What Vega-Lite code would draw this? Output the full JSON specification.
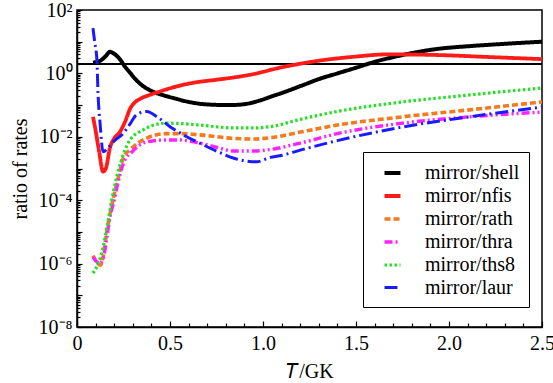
{
  "$schema": "https://vega.github.io/schema/vega-lite/v6.json",
  "width": 465,
  "height": 317,
  "autosize": {"type": "none"},
  "padding": {"left": 77, "top": 10, "right": 11, "bottom": 56},
  "background": "white",
  "config": {
    "view": {"stroke": "black", "strokeWidth": 1.5},
    "font": "Liberation Serif",
    "axis": {"grid": false, "domainColor": "black", "domainWidth": 1.5, "tickColor": "black", "tickWidth": 1.2, "labelFont": "Liberation Serif", "labelFontSize": 20, "labelColor": "black", "titleFont": "Liberation Serif", "titleFontSize": 20, "titleFontWeight": "normal", "titleColor": "black"}
  },
  "data": {"values": [
    {"s": "mirror/shell", "T": 0.086, "r": 2.19},
    {"s": "mirror/shell", "T": 0.13, "r": 2.63},
    {"s": "mirror/shell", "T": 0.155, "r": 3.55},
    {"s": "mirror/shell", "T": 0.177, "r": 4.79},
    {"s": "mirror/shell", "T": 0.2, "r": 4.17},
    {"s": "mirror/shell", "T": 0.23, "r": 2.82},
    {"s": "mirror/shell", "T": 0.26, "r": 1.58},
    {"s": "mirror/shell", "T": 0.285, "r": 1.05},
    {"s": "mirror/shell", "T": 0.32, "r": 0.603},
    {"s": "mirror/shell", "T": 0.36, "r": 0.38},
    {"s": "mirror/shell", "T": 0.41, "r": 0.263},
    {"s": "mirror/shell", "T": 0.47, "r": 0.2},
    {"s": "mirror/shell", "T": 0.52, "r": 0.166},
    {"s": "mirror/shell", "T": 0.6, "r": 0.126},
    {"s": "mirror/shell", "T": 0.7, "r": 0.105},
    {"s": "mirror/shell", "T": 0.82, "r": 0.1},
    {"s": "mirror/shell", "T": 0.9, "r": 0.107},
    {"s": "mirror/shell", "T": 0.98, "r": 0.138},
    {"s": "mirror/shell", "T": 1.05, "r": 0.191},
    {"s": "mirror/shell", "T": 1.1, "r": 0.24},
    {"s": "mirror/shell", "T": 1.215, "r": 0.427},
    {"s": "mirror/shell", "T": 1.3, "r": 0.661},
    {"s": "mirror/shell", "T": 1.4, "r": 1.0},
    {"s": "mirror/shell", "T": 1.5, "r": 1.51},
    {"s": "mirror/shell", "T": 1.575, "r": 2.09},
    {"s": "mirror/shell", "T": 1.75, "r": 3.8},
    {"s": "mirror/shell", "T": 1.935, "r": 5.89},
    {"s": "mirror/shell", "T": 2.11, "r": 7.24},
    {"s": "mirror/shell", "T": 2.29, "r": 8.51},
    {"s": "mirror/shell", "T": 2.5, "r": 10.0},

    {"s": "mirror/nfis", "T": 0.086, "r": 0.0427},
    {"s": "mirror/nfis", "T": 0.1, "r": 0.0158},
    {"s": "mirror/nfis", "T": 0.12, "r": 0.00316},
    {"s": "mirror/nfis", "T": 0.14, "r": 0.000794},
    {"s": "mirror/nfis", "T": 0.155, "r": 0.001},
    {"s": "mirror/nfis", "T": 0.177, "r": 0.00447},
    {"s": "mirror/nfis", "T": 0.2, "r": 0.00891},
    {"s": "mirror/nfis", "T": 0.23, "r": 0.0141},
    {"s": "mirror/nfis", "T": 0.26, "r": 0.0316},
    {"s": "mirror/nfis", "T": 0.285, "r": 0.0759},
    {"s": "mirror/nfis", "T": 0.31, "r": 0.12},
    {"s": "mirror/nfis", "T": 0.34, "r": 0.158},
    {"s": "mirror/nfis", "T": 0.39, "r": 0.209},
    {"s": "mirror/nfis", "T": 0.446, "r": 0.269},
    {"s": "mirror/nfis", "T": 0.5, "r": 0.339},
    {"s": "mirror/nfis", "T": 0.62, "r": 0.501},
    {"s": "mirror/nfis", "T": 0.75, "r": 0.631},
    {"s": "mirror/nfis", "T": 0.84, "r": 0.741},
    {"s": "mirror/nfis", "T": 0.95, "r": 0.955},
    {"s": "mirror/nfis", "T": 1.09, "r": 1.51},
    {"s": "mirror/nfis", "T": 1.215, "r": 2.09},
    {"s": "mirror/nfis", "T": 1.35, "r": 2.75},
    {"s": "mirror/nfis", "T": 1.48, "r": 3.31},
    {"s": "mirror/nfis", "T": 1.67, "r": 3.98},
    {"s": "mirror/nfis", "T": 1.94, "r": 3.8},
    {"s": "mirror/nfis", "T": 2.2, "r": 3.31},
    {"s": "mirror/nfis", "T": 2.5, "r": 2.82},

    {"s": "mirror/rath", "T": 0.086, "r": 1.78e-6},
    {"s": "mirror/rath", "T": 0.1, "r": 1.26e-6},
    {"s": "mirror/rath", "T": 0.125, "r": 8.9e-7},
    {"s": "mirror/rath", "T": 0.14, "r": 1.58e-6},
    {"s": "mirror/rath", "T": 0.16, "r": 1.0e-5},
    {"s": "mirror/rath", "T": 0.195, "r": 1.12e-4},
    {"s": "mirror/rath", "T": 0.23, "r": 7.94e-4},
    {"s": "mirror/rath", "T": 0.25, "r": 2.29e-3},
    {"s": "mirror/rath", "T": 0.285, "r": 3.89e-3},
    {"s": "mirror/rath", "T": 0.375, "r": 9.12e-3},
    {"s": "mirror/rath", "T": 0.48, "r": 0.0126},
    {"s": "mirror/rath", "T": 0.55, "r": 0.0126},
    {"s": "mirror/rath", "T": 0.66, "r": 0.0115},
    {"s": "mirror/rath", "T": 0.84, "r": 0.00891},
    {"s": "mirror/rath", "T": 0.95, "r": 0.00851},
    {"s": "mirror/rath", "T": 1.04, "r": 0.00933},
    {"s": "mirror/rath", "T": 1.2, "r": 0.0141},
    {"s": "mirror/rath", "T": 1.4, "r": 0.0234},
    {"s": "mirror/rath", "T": 1.75, "r": 0.0427},
    {"s": "mirror/rath", "T": 2.11, "r": 0.0708},
    {"s": "mirror/rath", "T": 2.5, "r": 0.126},

    {"s": "mirror/thra", "T": 0.086, "r": 1.58e-6},
    {"s": "mirror/thra", "T": 0.1, "r": 1.26e-6},
    {"s": "mirror/thra", "T": 0.12, "r": 1.0e-6},
    {"s": "mirror/thra", "T": 0.14, "r": 1.41e-6},
    {"s": "mirror/thra", "T": 0.16, "r": 6.31e-6},
    {"s": "mirror/thra", "T": 0.177, "r": 2.95e-5},
    {"s": "mirror/thra", "T": 0.2, "r": 1.0e-4},
    {"s": "mirror/thra", "T": 0.215, "r": 2.63e-4},
    {"s": "mirror/thra", "T": 0.25, "r": 1.48e-3},
    {"s": "mirror/thra", "T": 0.3, "r": 3.55e-3},
    {"s": "mirror/thra", "T": 0.375, "r": 6.92e-3},
    {"s": "mirror/thra", "T": 0.48, "r": 7.94e-3},
    {"s": "mirror/thra", "T": 0.55, "r": 7.94e-3},
    {"s": "mirror/thra", "T": 0.66, "r": 6.31e-3},
    {"s": "mirror/thra", "T": 0.75, "r": 4.68e-3},
    {"s": "mirror/thra", "T": 0.84, "r": 3.55e-3},
    {"s": "mirror/thra", "T": 0.95, "r": 3.55e-3},
    {"s": "mirror/thra", "T": 1.04, "r": 3.98e-3},
    {"s": "mirror/thra", "T": 1.2, "r": 6.31e-3},
    {"s": "mirror/thra", "T": 1.4, "r": 0.0126},
    {"s": "mirror/thra", "T": 1.75, "r": 0.0269},
    {"s": "mirror/thra", "T": 2.11, "r": 0.0427},
    {"s": "mirror/thra", "T": 2.5, "r": 0.0603},

    {"s": "mirror/ths8", "T": 0.086, "r": 5.01e-7},
    {"s": "mirror/ths8", "T": 0.11, "r": 8.9e-7},
    {"s": "mirror/ths8", "T": 0.14, "r": 3.16e-6},
    {"s": "mirror/ths8", "T": 0.16, "r": 1.26e-5},
    {"s": "mirror/ths8", "T": 0.195, "r": 1.78e-4},
    {"s": "mirror/ths8", "T": 0.23, "r": 1.26e-3},
    {"s": "mirror/ths8", "T": 0.285, "r": 7.94e-3},
    {"s": "mirror/ths8", "T": 0.35, "r": 0.0158},
    {"s": "mirror/ths8", "T": 0.39, "r": 0.0209},
    {"s": "mirror/ths8", "T": 0.48, "r": 0.0269},
    {"s": "mirror/ths8", "T": 0.55, "r": 0.0263},
    {"s": "mirror/ths8", "T": 0.66, "r": 0.0234},
    {"s": "mirror/ths8", "T": 0.84, "r": 0.0191},
    {"s": "mirror/ths8", "T": 0.95, "r": 0.0191},
    {"s": "mirror/ths8", "T": 1.04, "r": 0.0209},
    {"s": "mirror/ths8", "T": 1.2, "r": 0.0355},
    {"s": "mirror/ths8", "T": 1.4, "r": 0.0631},
    {"s": "mirror/ths8", "T": 1.75, "r": 0.126},
    {"s": "mirror/ths8", "T": 2.11, "r": 0.209},
    {"s": "mirror/ths8", "T": 2.5, "r": 0.347},

    {"s": "mirror/laur", "T": 0.086, "r": 26.9},
    {"s": "mirror/laur", "T": 0.095, "r": 10.0},
    {"s": "mirror/laur", "T": 0.107, "r": 2.63},
    {"s": "mirror/laur", "T": 0.113, "r": 0.24},
    {"s": "mirror/laur", "T": 0.124, "r": 0.0269},
    {"s": "mirror/laur", "T": 0.14, "r": 0.00339},
    {"s": "mirror/laur", "T": 0.16, "r": 0.00398},
    {"s": "mirror/laur", "T": 0.188, "r": 0.00631},
    {"s": "mirror/laur", "T": 0.25, "r": 0.0132},
    {"s": "mirror/laur", "T": 0.29, "r": 0.0282},
    {"s": "mirror/laur", "T": 0.32, "r": 0.0501},
    {"s": "mirror/laur", "T": 0.375, "r": 0.0631},
    {"s": "mirror/laur", "T": 0.43, "r": 0.0427},
    {"s": "mirror/laur", "T": 0.5, "r": 0.0209},
    {"s": "mirror/laur", "T": 0.59, "r": 0.01},
    {"s": "mirror/laur", "T": 0.66, "r": 0.00631},
    {"s": "mirror/laur", "T": 0.75, "r": 0.00355},
    {"s": "mirror/laur", "T": 0.84, "r": 0.00214},
    {"s": "mirror/laur", "T": 0.965, "r": 0.00162},
    {"s": "mirror/laur", "T": 1.04, "r": 0.00224},
    {"s": "mirror/laur", "T": 1.09, "r": 0.00251},
    {"s": "mirror/laur", "T": 1.2, "r": 0.0038},
    {"s": "mirror/laur", "T": 1.4, "r": 0.00759},
    {"s": "mirror/laur", "T": 1.75, "r": 0.0204},
    {"s": "mirror/laur", "T": 2.11, "r": 0.0427},
    {"s": "mirror/laur", "T": 2.5, "r": 0.0871}
  ]},
  "layer": [
    {
      "mark": {"type": "rule", "color": "black", "strokeWidth": 1.2},
      "encoding": {"y": {"datum": 2, "type": "quantitative"}}
    },
    {
      "mark": {"type": "line", "interpolate": "monotone", "strokeCap": "butt", "clip": true},
      "encoding": {
        "x": {
          "field": "T", "type": "quantitative",
          "scale": {"domain": [0, 2.5], "nice": false, "zero": false},
          "axis": {
            "title": "𝑇/GK",
            "titlePadding": 6,
            "values": [0,0.1,0.2,0.3,0.4,0.5,0.6,0.7,0.8,0.9,1.0,1.1,1.2,1.3,1.4,1.5,1.6,1.7,1.8,1.9,2.0,2.1,2.2,2.3,2.4,2.5],
            "labelExpr": "datum.value == 0 ? '0' : (abs(datum.value*2 - round(datum.value*2)) < 0.001 ? format(datum.value, '.1f') : '')",
            "tickSize": {"condition": {"test": "abs(datum.value*2 - round(datum.value*2)) < 0.001", "value": -6}, "value": -4},
            "labelPadding": 12,
            "labelFlush": false,
            "labelOverlap": false
          }
        },
        "y": {
          "field": "r", "type": "quantitative",
          "scale": {"type": "log", "domain": [1e-8, 100], "nice": false},
          "axis": {
            "title": "ratio of rates",
            "titlePadding": 8,
            "values": [1e-8,2e-8,3e-8,4e-8,5e-8,6e-8,7e-8,8e-8,9e-8,1e-7,2e-7,3e-7,4e-7,5e-7,6e-7,7e-7,8e-7,9e-7,1e-6,2e-6,3e-6,4e-6,5e-6,6e-6,7e-6,8e-6,9e-6,1e-5,2e-5,3e-5,4e-5,5e-5,6e-5,7e-5,8e-5,9e-5,1e-4,2e-4,3e-4,4e-4,5e-4,6e-4,7e-4,8e-4,9e-4,1e-3,2e-3,3e-3,4e-3,5e-3,6e-3,7e-3,8e-3,9e-3,1e-2,2e-2,3e-2,4e-2,5e-2,6e-2,7e-2,8e-2,9e-2,0.1,0.2,0.3,0.4,0.5,0.6,0.7,0.8,0.9,1,2,3,4,5,6,7,8,9,10,20,30,40,50,60,70,80,90,100],
            "labelExpr": "abs(datum.value/pow(10,round(log(datum.value)/LN10)) - 1) > 0.01 ? '' : round(log(datum.value)/LN10) == 2 ? '10²' : round(log(datum.value)/LN10) == 0 ? '10⁰' : round(log(datum.value)/LN10) == -2 ? '10⁻²' : round(log(datum.value)/LN10) == -4 ? '10⁻⁴' : round(log(datum.value)/LN10) == -6 ? '10⁻⁶' : round(log(datum.value)/LN10) == -8 ? '10⁻⁸' : ''",
            "tickSize": {"condition": {"test": "abs(datum.value/pow(10,round(log(datum.value)/LN10)) - 1) < 0.01", "value": -5}, "value": -3},
            "labelPadding": 10,
            "labelFlush": false,
            "labelOverlap": false
          }
        },
        "color": {
          "field": "s", "type": "nominal",
          "scale": {
            "domain": ["mirror/shell", "mirror/nfis", "mirror/rath", "mirror/thra", "mirror/ths8", "mirror/laur"],
            "range": ["#000000", "#ff1a1a", "#f47a20", "#ff22ff", "#22e022", "#1a1aff"]
          },
          "legend": {
            "title": null,
            "orient": "none",
            "legendX": 286,
            "legendY": 142,
            "padding": 9,
            "strokeColor": "black",
            "fillColor": "white",
            "symbolType": "M0.05,0H1.65",
            "symbolSize": 400,
            "labelFont": "Liberation Serif",
            "labelFontSize": 20,
            "labelColor": "black",
            "rowPadding": 1,
            "labelOffset": 29
          }
        },
        "strokeDash": {
          "field": "s", "type": "nominal",
          "scale": {
            "domain": ["mirror/shell", "mirror/nfis", "mirror/rath", "mirror/thra", "mirror/ths8", "mirror/laur"],
            "range": [[1, 0], [1, 0], [6, 3], [8, 3, 2, 3, 2, 3], [2.5, 2.5], [13, 4, 2, 4]]
          }
        },
        "strokeWidth": {
          "field": "s", "type": "nominal",
          "scale": {
            "domain": ["mirror/shell", "mirror/nfis", "mirror/rath", "mirror/thra", "mirror/ths8", "mirror/laur"],
            "range": [4, 3, 3, 3, 3, 3]
          }
        }
      }
    }
  ]
}
